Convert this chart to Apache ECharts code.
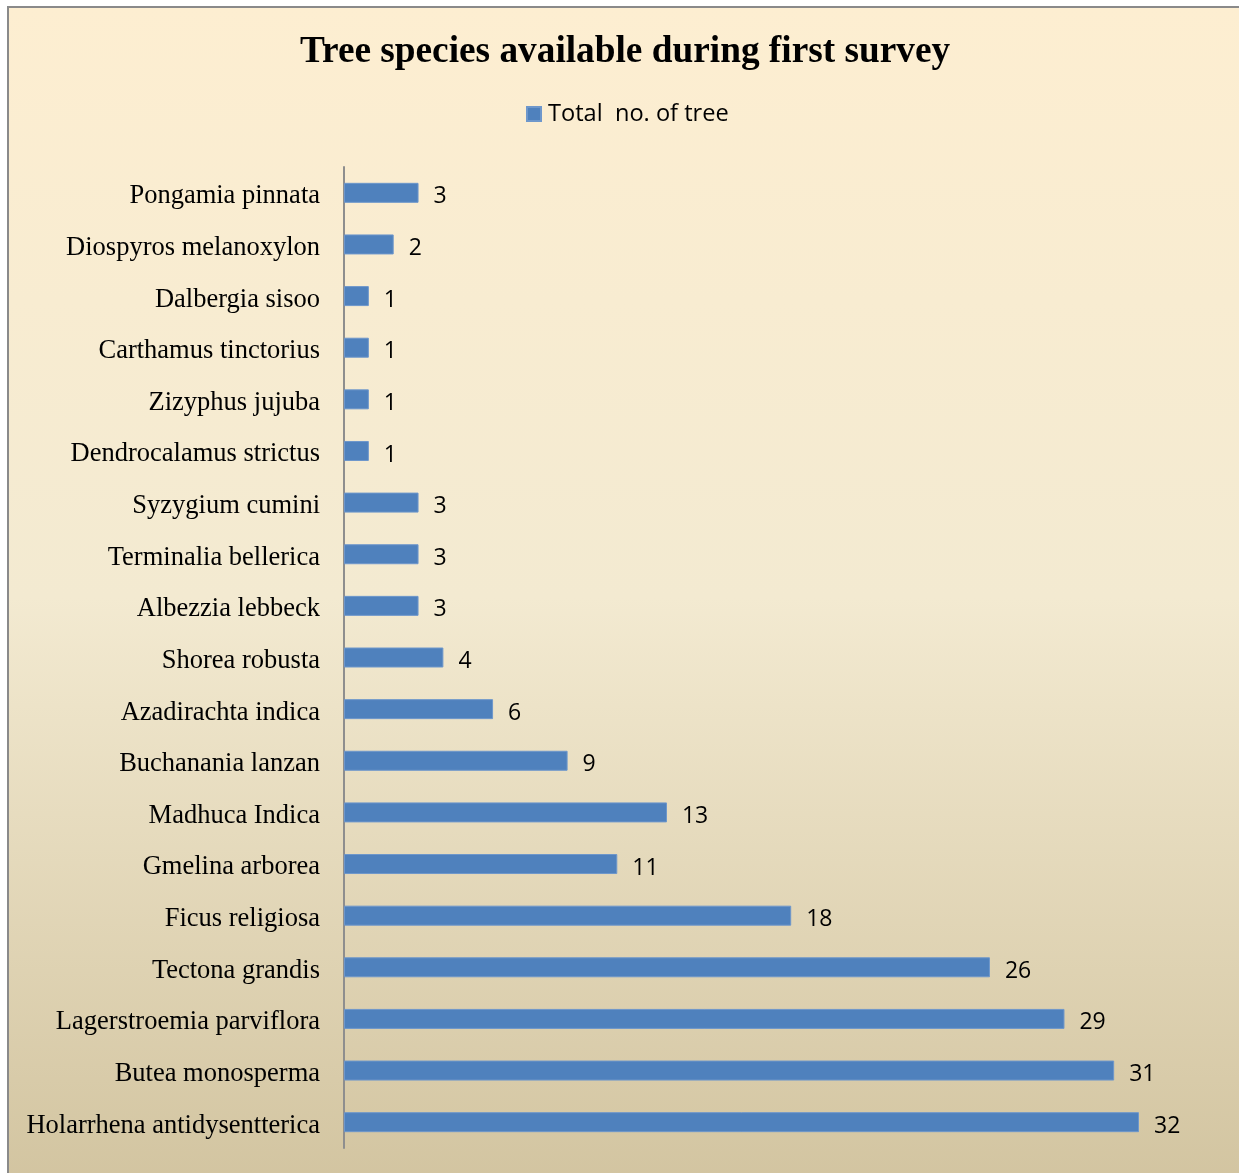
<!DOCTYPE html>
<html>
<head>
<meta charset="utf-8">
<script src="https://cdn.jsdelivr.net/npm/echarts@6/dist/echarts.min.js"></script>
<style>
html,body{margin:0;padding:0;background:#ffffff;}
#chart{width:1239px;height:1173px;}
</style>
</head>
<body>
<div id="chart"></div>
<script>
// Categories listed bottom-to-top (as in the source data order)
const categories = [
  "Holarrhena antidysentterica",
  "Butea monosperma",
  "Lagerstroemia parviflora",
  "Tectona grandis",
  "Ficus religiosa",
  "Gmelina arborea",
  "Madhuca Indica",
  "Buchanania lanzan",
  "Azadirachta indica",
  "Shorea robusta",
  "Albezzia lebbeck",
  "Terminalia bellerica",
  "Syzygium cumini",
  "Dendrocalamus strictus",
  "Zizyphus jujuba",
  "Carthamus tinctorius",
  "Dalbergia sisoo",
  "Diospyros melanoxylon",
  "Pongamia pinnata"
];
const totalTrees = [32, 31, 29, 26, 18, 11, 13, 9, 6, 4, 3, 3, 3, 1, 1, 1, 1, 2, 3];
const seriesName = "Total  no. of tree";
const titleText = "Tree species available during first survey";

const chart = echarts.init(document.getElementById('chart'), null, {renderer: 'canvas'});
const option = {
  backgroundColor: '#ffffff',
  animation: false,
  graphic: [
    {
      type: 'rect',
      z: -10,
      silent: true,
      shape: {x: 8, y: 7, width: 1240, height: 1180},
      style: {
        fill: {
          type: 'linear', x: 0, y: 0, x2: 0, y2: 1,
          colorStops: [
            {offset: 0, color: '#FDEED1'},
            {offset: 0.5, color: '#F3EAD1'},
            {offset: 1, color: '#D2C4A0'}
          ]
        },
        stroke: '#8a8a8a',
        lineWidth: 2
      }
    }
  ],
  title: {
    text: titleText,
    left: 620,
    top: 29,
    textAlign: 'center',
    textStyle: {
      fontFamily: 'Liberation Serif',
      fontWeight: 'bold',
      fontSize: 37.3,
      color: '#000000'
    }
  },
  legend: {
    left: 521,
    top: 97,
    itemWidth: 14,
    itemHeight: 14,
    itemGap: 10,
    icon: 'rect',
    textStyle: {
      fontFamily: 'Open Sans',
      fontSize: 23.6,
      color: '#000000',
      padding: [0, 0, 0, 2]
    },
    data: [seriesName]
  },
  grid: {
    left: 344,
    top: 167,
    width: 795,
    height: 981,
    containLabel: false
  },
  xAxis: {
    type: 'value',
    min: 0,
    max: 32,
    show: false
  },
  yAxis: {
    type: 'category',
    data: categories,
    axisLine: {show: true, lineStyle: {color: '#8e8e8e', width: 2}},
    axisTick: {show: false},
    axisLabel: {
      margin: 24,
      fontFamily: 'Liberation Serif',
      fontSize: 26.5,
      color: '#000000',
      verticalAlign: 'top',
      lineHeight: 7
    },
    splitLine: {show: false}
  },
  series: [
    {
      name: seriesName,
      type: 'bar',
      data: totalTrees,
      barWidth: 20,
      itemStyle: {color: '#4F81BD', borderColor: '#6E97CB', borderWidth: 1},
      label: {
        show: true,
        position: 'right',
        distance: 15,
        offset: [0, 4],
        fontFamily: 'Open Sans',
        fontSize: 23,
        color: '#000000'
      }
    }
  ]
};
chart.setOption(option);
</script>
</body>
</html>
